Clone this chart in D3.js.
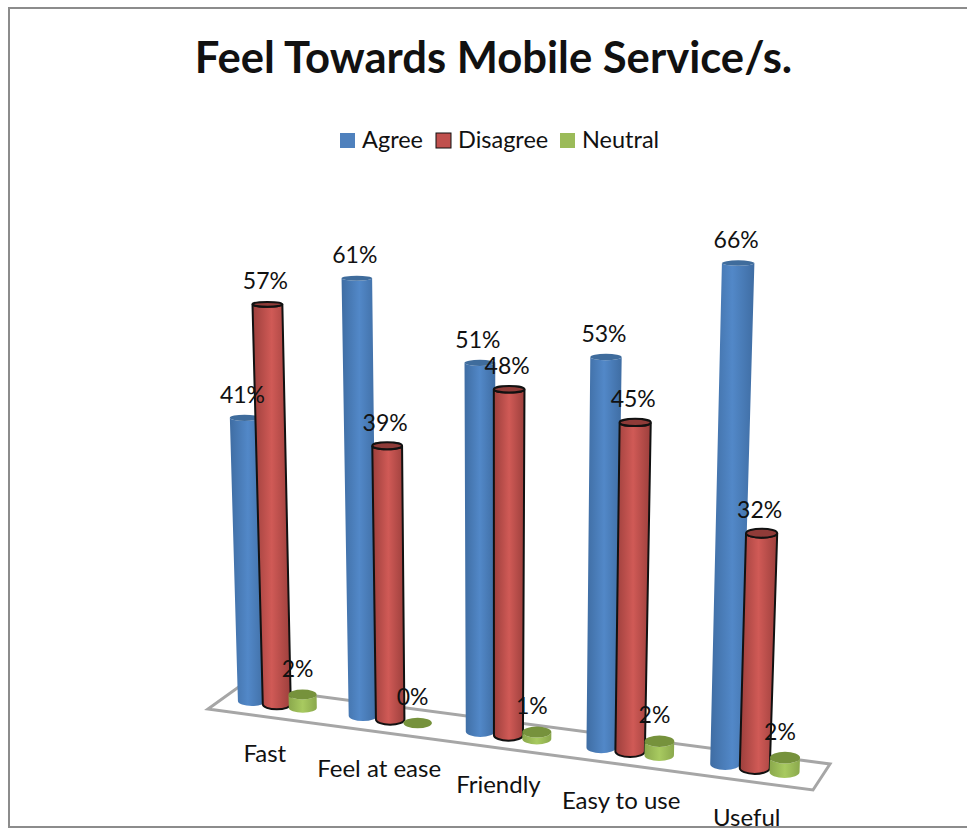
<!DOCTYPE html>
<html>
<head>
<meta charset="utf-8">
<script src="https://cdn.jsdelivr.net/npm/d3@7"></script>
<style>
  html, body { margin: 0; padding: 0; background: #fff; }
  text { font-family: Lato, "Open Sans", sans-serif; fill: #111; }
</style>
</head>
<body>
<script>

var categories = ["Fast", "Feel at ease", "Friendly", "Easy to use", "Useful"]
var seriesNames = ["Agree", "Disagree", "Neutral"]
var agree = [41, 61, 51, 53, 66]
var disagree = [57, 39, 48, 45, 32]
var neutral = [2, 0, 1, 2, 2]
var seriesValues = [agree, disagree, neutral]
var seriesColors = ["#4f81bd", "#c0504d", "#9bbb59"]

var width = 967, height = 828

var svg = d3.select("body").append("svg")
    .attr("width", width)
    .attr("height", height)
    .style("display", "block")

var defs = svg.append("defs")

//side shading of the cylinders, dark at both edges
var shades = [
  {dark: "#3f6da3", light: "#5288c8", top: "#3f6c9c"},
  {dark: "#9c3f3c", light: "#d05a56", top: "#8f3b38"},
  {dark: "#8aa84c", light: "#a8ca60", top: "#76923c"}
]
shades.forEach(function(s, i){
  var g = defs.append("linearGradient").attr("id", "side" + i)
  g.append("stop").attr("offset", "0%").attr("stop-color", s.dark)
  g.append("stop").attr("offset", "50%").attr("stop-color", s.light)
  g.append("stop").attr("offset", "100%").attr("stop-color", s.dark)
})

//chart frame, only left, top and bottom edges show in the picture
svg.append("path")
    .attr("d", "M" + width + ",8 H9 V827 H" + width)
    .attr("fill", "none")
    .attr("stroke", "#8c8c8c")
    .attr("stroke-width", 2)

//title
svg.append("text")
    .attr("x", 493.5).attr("y", 73)
    .attr("text-anchor", "middle")
    .style("font-size", "43.6px")
    .style("font-weight", 700)
    .text("Feel Towards Mobile Service/s.")

//legend
var legendX = d3.scaleOrdinal().domain(seriesNames).range([340, 436, 560])
var legend = svg.selectAll(".legend")
    .data(seriesNames)
  .enter().append("g")
    .attr("class", "legend")
    .attr("transform", function(d){ return "translate(" + legendX(d) + ",133)" })
legend.append("rect")
    .attr("width", 15).attr("height", 15)
    .attr("fill", function(d, i){ return seriesColors[i] })
    .attr("stroke", function(d, i){ return i == 1 ? "#111" : "none" })
legend.append("text")
    .attr("x", 22).attr("y", 15)
    .style("font-size", "23.5px")
    .text(function(d){ return d })

//floor plane -> screen, a homography of the unit square (u along axis, v front/back)
var floorCorners = {p00: [240, 686], p10: [830, 764], p11: [813, 790], p01: [208, 709]}
var project = (function(c){
  var sx = c.p00[0] - c.p10[0] + c.p11[0] - c.p01[0],
      sy = c.p00[1] - c.p10[1] + c.p11[1] - c.p01[1],
      dx1 = c.p10[0] - c.p11[0], dy1 = c.p10[1] - c.p11[1],
      dx2 = c.p01[0] - c.p11[0], dy2 = c.p01[1] - c.p11[1],
      den = dx1 * dy2 - dx2 * dy1,
      g = (sx * dy2 - dx2 * sy) / den,
      h = (dx1 * sy - sx * dy1) / den,
      a = c.p10[0] - c.p00[0] + g * c.p10[0],
      b = c.p01[0] - c.p00[0] + h * c.p01[0],
      d = c.p10[1] - c.p00[1] + g * c.p10[1],
      e = c.p01[1] - c.p00[1] + h * c.p01[1]
  return function(u, v){
    var w = g * u + h * v + 1
    return [(a * u + b * v + c.p00[0]) / w, (d * u + e * v + c.p00[1]) / w]
  }
})(floorCorners)

var floorLine = d3.line()
svg.append("path")
    .attr("d", floorLine([[0, 0], [1, 0], [1, 1], [0, 1]].map(function(p){ return project(p[0], p[1]) })) + "Z")
    .attr("fill", "#fff")
    .attr("stroke", "#a6a6a6")
    .attr("stroke-width", 3)

//slot along the axis: 3 bars per category and a wider gap between categories
var catStep = 4.25
var slotScale = d3.scalePow().exponent(1.03)
    .domain([0, (categories.length - 1) * catStep + seriesNames.length - 1])
    .range([0.048, 0.94])
var iScale = d3.scaleLinear().domain([0, categories.length - 1])
var perPercent = iScale.copy().range([6.97, 7.47])
var radius = iScale.copy().range([14, 15])
var ryScale = iScale.copy().range([5, 6])
var leanCentre = 490, lean = 1.1e-4

var bars = []
categories.forEach(function(cat, i){
  seriesNames.forEach(function(name, s){
    var value = seriesValues[s][i]
    var base = project(slotScale(i * catStep + s), 0.5)
    //tall bars stretch a little more, the view is from above
    var h = value * perPercent(i) * (1 + 0.001 * (value - 50))
    var grow = 1 + lean * h * 1.5
    bars.push({
      cat: i, s: s, value: value, xb: base[0], yb: base[1],
      xt: base[0] + (base[0] - leanCentre) * h * lean,
      yt: base[1] - h,
      rb: radius(i), rt: radius(i) * grow,
      ry: ryScale(i), ryTop: ryScale(i) - 0.0065 * h
    })
  })
})

function sidePath(d){
  return "M" + (d.xt - d.rt) + "," + d.yt +
    "L" + (d.xb - d.rb) + "," + d.yb +
    "A" + d.rb + "," + d.ry + " 0 0 0 " + (d.xb + d.rb) + "," + d.yb +
    "L" + (d.xt + d.rt) + "," + d.yt +
    "A" + d.rt + "," + d.ryTop + " 0 0 1 " + (d.xt - d.rt) + "," + d.yt + "Z"
}

var bar = svg.selectAll(".bar")
    .data(bars)
  .enter().append("g")
    .attr("class", "bar")
bar.filter(function(d){ return d.value > 0 }).append("path")
    .attr("d", sidePath)
    .attr("fill", function(d){ return "url(#side" + d.s + ")" })
    .attr("stroke", function(d){ return d.s == 1 ? "#111" : "none" })
    .attr("stroke-width", 2)
bar.append("ellipse")
    .attr("cx", function(d){ return d.xt })
    .attr("cy", function(d){ return d.yt })
    .attr("rx", function(d){ return d.rt })
    .attr("ry", function(d){ return d.ryTop })
    .attr("fill", function(d){ return shades[d.s].top })
    .attr("stroke", function(d){ return d.s == 1 ? "#111" : "none" })
    .attr("stroke-width", 2)

//data labels on top of everything
svg.selectAll(".value")
    .data(bars)
  .enter().append("text")
    .attr("class", "value")
    .attr("x", function(d){ return d.xt - (d.s == 2 ? 5 : 2) })
    .attr("y", function(d){ return d.yt - (d.s == 2 ? 18 : 15) })
    .attr("text-anchor", "middle")
    .style("font-size", "23px")
    .text(function(d){ return d.value + "%" })

//category labels, centred under each cluster
svg.selectAll(".cat")
    .data(categories)
  .enter().append("text")
    .attr("class", "cat")
    .attr("x", function(d, i){ return project(slotScale(i * catStep + 1), 0.5)[0] - 12 + i })
    .attr("y", function(d, i){ return project(slotScale(i * catStep + 1), 0.5)[1] + 58 })
    .attr("text-anchor", "middle")
    .style("font-size", "24px")
    .text(function(d){ return d })

</script>
</body>
</html>
